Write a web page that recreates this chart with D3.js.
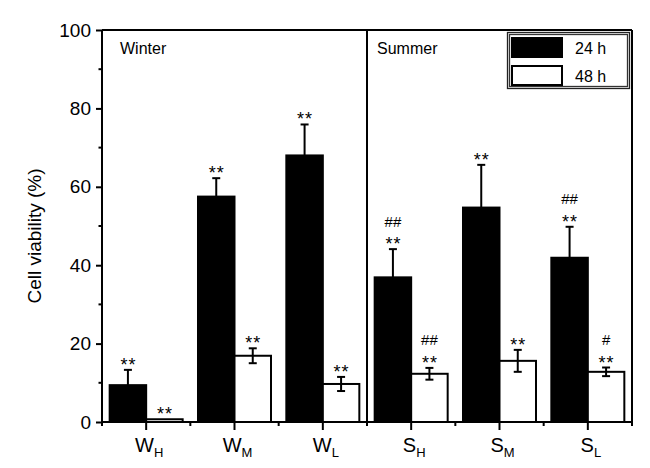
<!DOCTYPE html>
<html>
<head>
<meta charset="utf-8">
<script src="https://cdn.jsdelivr.net/npm/d3@7"></script>
<style>
  body { margin: 0; background: #fff; }
  svg { font-family: "Liberation Sans", Arial, sans-serif; }
</style>
</head>
<body>
<svg width="650" height="468"></svg>
<script>
// data
var cats = ["WH", "WM", "WL", "SH", "SM", "SL"];
var catMain = ["W", "W", "W", "S", "S", "S"];
var catSub = ["H", "M", "L", "H", "M", "L"];
var series = ["24 h", "48 h"];
var v24 = [9.4, 57.5, 68.0, 36.9, 54.7, 41.9];
var e24 = [3.9, 4.7, 7.9, 7.2, 10.9, 7.9];
var v48 = [0.7, 16.9, 9.7, 12.3, 15.6, 12.8];
var e48 = [0, 1.9, 1.8, 1.5, 2.8, 1.1];
var star24 = ["**", "**", "**", "**", "**", "**"];
var hash24 = ["", "", "", "##", "", "##"];
var star48 = ["**", "**", "**", "**", "**", "**"];
var hash48 = ["", "", "", "##", "", "#"];
var seasons = ["Winter", "Summer"];
var yTicks = [0, 20, 40, 60, 80, 100];
var yMinor = [10, 30, 50, 70, 90];

var svg = d3.select("svg");
var pLeft = 102, pRight = 632, pTop = 30, pBottom = 422;

var x = d3.scaleBand().domain(cats).range([pLeft, pRight]).padding(0);
var xs = d3.scaleBand().domain(series).range([0, x.bandwidth()])
    .paddingInner(0).paddingOuter(0.21);
var y = d3.scaleLinear().domain([0, 100]).range([pBottom, pTop]);

// rows of bar data
var bars = [];
cats.forEach(function(c, i) {
  bars.push({cat: c, s: "24 h", v: v24[i], e: e24[i], star: star24[i], hash: hash24[i]});
  bars.push({cat: c, s: "48 h", v: v48[i], e: e48[i], star: star48[i], hash: hash48[i]});
});

function cx(d) { return x(d.cat) + xs(d.s) + xs.bandwidth() / 2; }

function errorBar(g, d) {
  g.append("line").attr("x1", cx(d)).attr("x2", cx(d))
    .attr("y1", y(d.v - d.e)).attr("y2", y(d.v + d.e));
  g.append("line").attr("x1", cx(d) - 4).attr("x2", cx(d) + 4)
    .attr("y1", y(d.v + d.e)).attr("y2", y(d.v + d.e));
  g.append("line").attr("x1", cx(d) - 4).attr("x2", cx(d) + 4)
    .attr("y1", y(d.v - d.e)).attr("y2", y(d.v - d.e));
}

// error bars of black bars go under the bars
svg.append("g").attr("stroke", "#000").attr("stroke-width", 2)
  .selectAll("g").data(bars.filter(function(d) { return d.e > 0 && d.s == "24 h"; }))
  .enter().append("g").each(function(d) { errorBar(d3.select(this), d); });

svg.append("g").selectAll("rect").data(bars)
  .enter().append("rect")
    .attr("x", function(d) { return x(d.cat) + xs(d.s); })
    .attr("width", xs.bandwidth())
    .attr("y", function(d) { return y(d.v); })
    .attr("height", function(d) { return y(0) - y(d.v); })
    .attr("fill", function(d) { return d.s == "24 h" ? "#000" : "#fff"; })
    .attr("stroke", "#000")
    .attr("stroke-width", 2);

// error bars on white bars sit on top
svg.append("g").attr("stroke", "#000").attr("stroke-width", 2)
  .selectAll("g").data(bars.filter(function(d) { return d.e > 0 && d.s == "48 h"; }))
  .enter().append("g").each(function(d) { errorBar(d3.select(this), d); });

// significance marks
svg.append("g").selectAll("text").data(bars)
  .enter().append("text")
    .attr("x", function(d) { return cx(d) + 0.5; })
    .attr("y", function(d) { return y(d.v + d.e) + 1; })
    .attr("text-anchor", "middle")
    .style("font-size", "18px")
    .style("letter-spacing", "1px")
    .text(function(d) { return d.star; });
svg.append("g").selectAll("text").data(bars.filter(function(d) { return d.hash; }))
  .enter().append("text")
    .attr("x", cx)
    .attr("y", function(d) { return y(d.v + d.e) - 22.5; })
    .attr("text-anchor", "middle")
    .style("font-size", "15px")
    .text(function(d) { return d.hash; });

// frame
var frame = svg.append("g").attr("stroke", "#000").attr("stroke-width", 2).attr("fill", "none");
frame.append("line").attr("x1", pLeft).attr("x2", pRight).attr("y1", pTop).attr("y2", pTop);
frame.append("line").attr("x1", pRight).attr("x2", pRight).attr("y1", pTop).attr("y2", pBottom + 4);
frame.append("line").attr("x1", x("SH")).attr("x2", x("SH")).attr("y1", pTop).attr("y2", pBottom + 4);

// y axis
var yAxis = svg.append("g").attr("transform", "translate(" + pLeft + ",0)")
  .call(d3.axisLeft(y).tickValues(yTicks).tickSize(6).tickPadding(5))
  .attr("font-family", null).attr("font-size", null);
yAxis.append("g").selectAll("line").data(yMinor).enter().append("line")
    .attr("x1", -3.5).attr("x2", 0)
    .attr("y1", function(d) { return y(d); }).attr("y2", function(d) { return y(d); })
    .attr("stroke", "#000");
yAxis.select(".domain").attr("d", "M0," + (pBottom + 4) + "V" + pTop);
yAxis.selectAll("line, path").attr("stroke-width", 2);
yAxis.selectAll("text").style("font-size", "19px").attr("fill", "#000");

// x axis
var xAxis = svg.append("g").attr("transform", "translate(0," + pBottom + ")")
  .call(d3.axisBottom(x).tickSize(8).tickFormat(""));
xAxis.select(".domain").attr("d", "M" + pLeft + ",0H" + pRight);
xAxis.append("g").selectAll("line").data(cats.slice(1)).enter().append("line")
    .attr("x1", function(d) { return x(d); }).attr("x2", function(d) { return x(d); })
    .attr("y1", 0).attr("y2", 4).attr("stroke", "#000");
xAxis.selectAll("line, path").attr("stroke-width", 2);

var xl = svg.append("g").selectAll("text").data(cats).enter().append("text")
    .attr("x", function(d) { return x(d) + x.bandwidth() / 2 + 3; })
    .attr("y", 451.5)
    .attr("text-anchor", "middle")
    .style("font-size", "20px");
xl.append("tspan").text(function(d, i) { return catMain[i]; });
xl.append("tspan").attr("dy", 5).style("font-size", "13px")
    .text(function(d, i) { return catSub[i]; });

// y label
svg.append("text")
    .attr("transform", "translate(41,236) rotate(-90)")
    .attr("text-anchor", "middle")
    .style("font-size", "19px")
    .text("Cell viability (%)");

// season labels
svg.append("g").selectAll("text").data(seasons).enter().append("text")
    .attr("x", function(d, i) { return (i == 0 ? x("WH") + 18 : x("SH") + 10); })
    .attr("y", 54)
    .style("font-size", "16px")
    .text(function(d) { return d; });

// legend
var lg = svg.append("g");
lg.append("rect").attr("x", 507.5).attr("y", 32.5).attr("width", 122).attr("height", 56)
  .attr("fill", "#fff").attr("stroke", "#222").attr("stroke-width", 1.3);
lg.append("rect").attr("x", 509.5).attr("y", 34.5).attr("width", 118).attr("height", 52)
  .attr("fill", "none").attr("stroke", "#333").attr("stroke-width", 1.3);
var li = lg.selectAll("g").data(series).enter().append("g")
    .attr("transform", function(d, i) { return "translate(0," + (i * 28) + ")"; });
li.append("rect").attr("x", 512).attr("y", 38).attr("width", 50).attr("height", 19)
  .attr("fill", function(d, i) { return i == 0 ? "#000" : "#fff"; })
  .attr("stroke", "#000").attr("stroke-width", 2);
li.append("text").attr("x", 575).attr("y", 54).style("font-size", "16px")
  .text(function(d) { return d; });
</script>
</body>
</html>
